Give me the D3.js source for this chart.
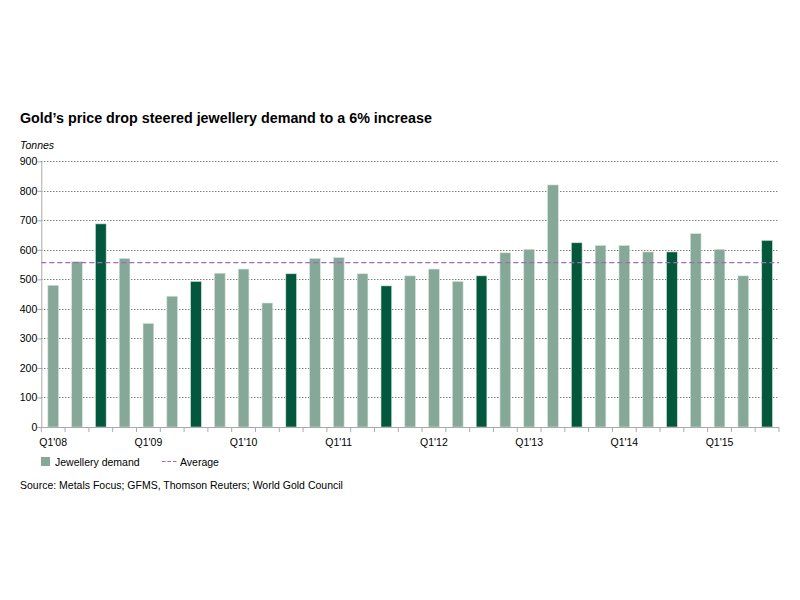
<!DOCTYPE html>
<html><head><meta charset="utf-8">
<script src="https://cdn.jsdelivr.net/npm/d3@7"></script>
<style>body{margin:0;background:#fff;} text{font-family:"Liberation Sans",Arial,Helvetica,sans-serif;}</style>
</head><body>
<svg id="c" width="800" height="600"></svg>
<script>
const quarters = ["Q1'08","Q2'08","Q3'08","Q4'08","Q1'09","Q2'09","Q3'09","Q4'09","Q1'10","Q2'10","Q3'10","Q4'10","Q1'11","Q2'11","Q3'11","Q4'11","Q1'12","Q2'12","Q3'12","Q4'12","Q1'13","Q2'13","Q3'13","Q4'13","Q1'14","Q2'14","Q3'14","Q4'14","Q1'15","Q2'15","Q3'15"];
const demand = [480,560,688,571,351,443,493,521,535,420,519,571,574,519,478,512,535,493,512,590,602,820,624,615,615,593,593,655,602,512,632];
const highlighted = [false,false,true,false,false,false,true,false,false,false,true,false,false,false,true,false,false,false,true,false,false,false,true,false,false,false,true,false,false,false,true];
const average = 557;
const yTicks = [0,100,200,300,400,500,600,700,800,900];
const xLabels = ["Q1'08","Q1'09","Q1'10","Q1'11","Q1'12","Q1'13","Q1'14","Q1'15"];

const svg = d3.select("#c");
const L = 41.3, R = 779, T = 161.3, B = 427;
const x = d3.scaleBand().domain(quarters).range([L, R]).paddingInner(0.55).paddingOuter(0.275);
const y = d3.scaleLinear().domain([0, 900]).range([B, T]);
const light = "#86a898", dark = "#02573c";

// title
svg.append("text").attr("x", 20).attr("y", 123).attr("font-size", 14.3).attr("font-weight", "bold").attr("fill", "#000")
  .text("Gold\u2019s price drop steered jewellery demand to a 6% increase");
svg.append("text").attr("x", 20).attr("y", 149).attr("font-size", 10.5).attr("font-style", "italic").attr("fill", "#000").text("Tonnes");

// grid
const g = svg.append("g");
g.selectAll("line.grid").data(yTicks.filter(d => d > 0)).join("line")
  .attr("x1", L).attr("x2", R).attr("y1", d => Math.round(y(d)) + 0.5).attr("y2", d => Math.round(y(d)) + 0.5)
  .attr("stroke", "#444").attr("stroke-width", 1).attr("stroke-dasharray", "1,2");

// y axis
const yAxis = d3.axisLeft(y).tickValues(yTicks).tickSize(4).tickSizeOuter(0);
const ya = svg.append("g").attr("transform", `translate(${L},0)`).call(yAxis);
ya.select(".domain").attr("stroke", "#aaa");
ya.selectAll(".tick line").attr("stroke", "#aaa");
ya.selectAll(".tick text").attr("font-size", 10.5).attr("fill", "#000").attr("x", -4)
  .style("font-family", "'Liberation Sans',Arial,sans-serif");

// bars
svg.append("g").selectAll("rect").data(quarters).join("rect")
  .attr("x", d => x(d)).attr("width", x.bandwidth())
  .attr("y", (d, i) => y(demand[i])).attr("height", (d, i) => B - y(demand[i]))
  .attr("fill", (d, i) => highlighted[i] ? dark : light)
  .attr("stroke", (d, i) => highlighted[i] ? "#cfe0d6" : "#d7e4dc").attr("stroke-width", 0.6);

// x axis
const step = x.step();
const xa = svg.append("g").attr("transform", `translate(0,${B})`);
xa.append("line").attr("x1", L).attr("x2", R).attr("y1", 0.5).attr("y2", 0.5).attr("stroke", "#aaa");
xa.selectAll("line.t").data(d3.range(quarters.length + 1)).join("line")
  .attr("x1", i => L + i * step).attr("x2", i => L + i * step).attr("y1", 0).attr("y2", 5).attr("stroke", "#aaa");
xa.selectAll("text").data(xLabels).join("text")
  .attr("x", d => x(d) + x.bandwidth() / 2).attr("y", 19).attr("text-anchor", "middle")
  .attr("font-size", 10.5).attr("fill", "#000").text(d => d);

// average line
svg.append("line").attr("x1", L).attr("x2", R).attr("y1", y(average)).attr("y2", y(average))
  .attr("stroke", "#a667b8").attr("stroke-width", 1.2).attr("stroke-dasharray", "5,3");

// legend
svg.append("rect").attr("x", 41).attr("y", 457).attr("width", 9).attr("height", 9).attr("fill", light);
svg.append("text").attr("x", 55).attr("y", 465.5).attr("font-size", 10.5).attr("fill", "#000").text("Jewellery demand");
svg.append("line").attr("x1", 162).attr("x2", 177).attr("y1", 461.5).attr("y2", 461.5)
  .attr("stroke", "#a667b8").attr("stroke-width", 1.2).attr("stroke-dasharray", "3.5,2");
svg.append("text").attr("x", 180).attr("y", 465.5).attr("font-size", 10.5).attr("fill", "#000").text("Average");

// source
svg.append("text").attr("x", 20).attr("y", 489).attr("font-size", 10.5).attr("fill", "#000")
  .text("Source: Metals Focus; GFMS, Thomson Reuters; World Gold Council");
</script>
</body></html>
